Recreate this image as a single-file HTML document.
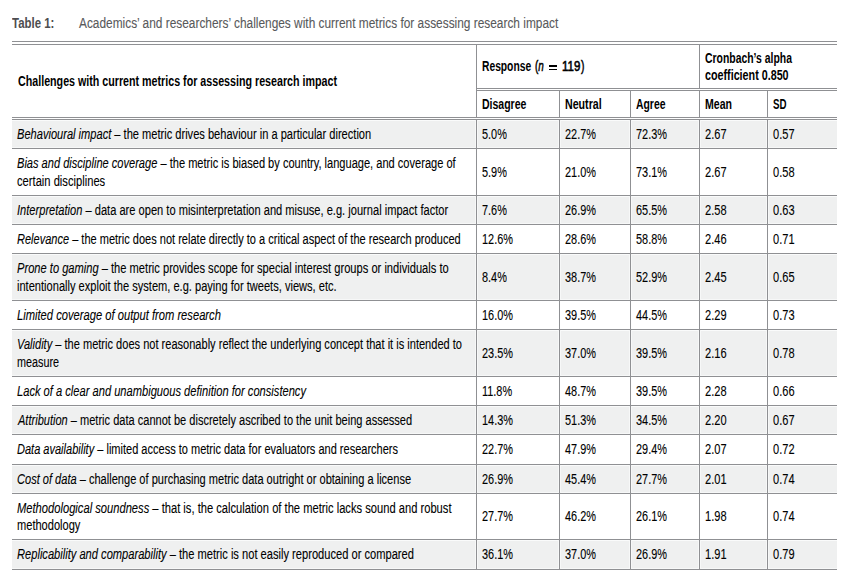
<!DOCTYPE html>
<html><head><meta charset="utf-8"><style>
html,body{margin:0;padding:0;background:#fff;}
body{width:851px;height:580px;position:relative;overflow:hidden;font-family:"Liberation Sans",sans-serif;}
.r{position:absolute}
.t{position:absolute;white-space:nowrap;-webkit-text-stroke:0.1px currentColor;line-height:20px;transform-origin:0 0;}
i{font-style:italic}
b{font-weight:bold;-webkit-text-stroke-width:0}
</style></head><body>
<div class="r" style="left:12px;top:121px;width:825px;height:26px;background:#eff0f0"></div>
<div class="r" style="left:12px;top:147px;width:825px;height:1px;background:#f7f8f8"></div>
<div class="r" style="left:12px;top:120px;width:825px;height:1px;background:#fafbfb"></div>
<div class="r" style="left:12px;top:197px;width:825px;height:26px;background:#eff0f0"></div>
<div class="r" style="left:12px;top:223px;width:825px;height:1px;background:#f7f8f8"></div>
<div class="r" style="left:12px;top:196px;width:825px;height:1px;background:#fafbfb"></div>
<div class="r" style="left:12px;top:255px;width:825px;height:44px;background:#eff0f0"></div>
<div class="r" style="left:12px;top:299px;width:825px;height:1px;background:#f7f8f8"></div>
<div class="r" style="left:12px;top:254px;width:825px;height:1px;background:#fafbfb"></div>
<div class="r" style="left:12px;top:331px;width:825px;height:44px;background:#eff0f0"></div>
<div class="r" style="left:12px;top:375px;width:825px;height:1px;background:#f7f8f8"></div>
<div class="r" style="left:12px;top:330px;width:825px;height:1px;background:#fafbfb"></div>
<div class="r" style="left:12px;top:407px;width:825px;height:26px;background:#eff0f0"></div>
<div class="r" style="left:12px;top:433px;width:825px;height:1px;background:#f7f8f8"></div>
<div class="r" style="left:12px;top:406px;width:825px;height:1px;background:#fafbfb"></div>
<div class="r" style="left:12px;top:466px;width:825px;height:26px;background:#eff0f0"></div>
<div class="r" style="left:12px;top:492px;width:825px;height:1px;background:#f7f8f8"></div>
<div class="r" style="left:12px;top:465px;width:825px;height:1px;background:#fafbfb"></div>
<div class="r" style="left:12px;top:541px;width:825px;height:27px;background:#eff0f0"></div>
<div class="r" style="left:12px;top:568px;width:825px;height:1px;background:#f7f8f8"></div>
<div class="r" style="left:12px;top:540px;width:825px;height:1px;background:#fafbfb"></div>
<div class="r" style="left:12px;top:41px;width:825px;height:1px;background:#8f9093"></div>
<div class="r" style="left:12px;top:44px;width:825px;height:1px;background:#8f9093"></div>
<div class="r" style="left:476px;top:88px;width:361px;height:1px;background:#8f9093"></div>
<div class="r" style="left:476px;top:90px;width:361px;height:1px;background:#8f9093"></div>
<div class="r" style="left:12px;top:117px;width:825px;height:1px;background:#8f9093"></div>
<div class="r" style="left:12px;top:119px;width:825px;height:1px;background:#8f9093"></div>
<div class="r" style="left:12px;top:148px;width:825px;height:1px;background:#8f9093"></div>
<div class="r" style="left:12px;top:195px;width:825px;height:1px;background:#8f9093"></div>
<div class="r" style="left:12px;top:224px;width:825px;height:1px;background:#8f9093"></div>
<div class="r" style="left:12px;top:253px;width:825px;height:1px;background:#8f9093"></div>
<div class="r" style="left:12px;top:300px;width:825px;height:1px;background:#8f9093"></div>
<div class="r" style="left:12px;top:329px;width:825px;height:1px;background:#8f9093"></div>
<div class="r" style="left:12px;top:376px;width:825px;height:1px;background:#8f9093"></div>
<div class="r" style="left:12px;top:405px;width:825px;height:1px;background:#8f9093"></div>
<div class="r" style="left:12px;top:434px;width:825px;height:1px;background:#8f9093"></div>
<div class="r" style="left:12px;top:464px;width:825px;height:1px;background:#8f9093"></div>
<div class="r" style="left:12px;top:493px;width:825px;height:1px;background:#8f9093"></div>
<div class="r" style="left:12px;top:539px;width:825px;height:1px;background:#8f9093"></div>
<div class="r" style="left:12px;top:569px;width:825px;height:1px;background:#8f9093"></div>
<div class="r" style="left:475px;top:120px;width:1px;height:28px;background:#f7f8f8"></div>
<div class="r" style="left:477px;top:120px;width:1px;height:28px;background:#f7f8f8"></div>
<div class="r" style="left:558px;top:120px;width:1px;height:28px;background:#f7f8f8"></div>
<div class="r" style="left:560px;top:120px;width:1px;height:28px;background:#f7f8f8"></div>
<div class="r" style="left:629px;top:120px;width:1px;height:28px;background:#f7f8f8"></div>
<div class="r" style="left:631px;top:120px;width:1px;height:28px;background:#f7f8f8"></div>
<div class="r" style="left:698px;top:120px;width:1px;height:28px;background:#f7f8f8"></div>
<div class="r" style="left:700px;top:120px;width:1px;height:28px;background:#f7f8f8"></div>
<div class="r" style="left:766px;top:120px;width:1px;height:28px;background:#f7f8f8"></div>
<div class="r" style="left:768px;top:120px;width:1px;height:28px;background:#f7f8f8"></div>
<div class="r" style="left:475px;top:196px;width:1px;height:28px;background:#f7f8f8"></div>
<div class="r" style="left:477px;top:196px;width:1px;height:28px;background:#f7f8f8"></div>
<div class="r" style="left:558px;top:196px;width:1px;height:28px;background:#f7f8f8"></div>
<div class="r" style="left:560px;top:196px;width:1px;height:28px;background:#f7f8f8"></div>
<div class="r" style="left:629px;top:196px;width:1px;height:28px;background:#f7f8f8"></div>
<div class="r" style="left:631px;top:196px;width:1px;height:28px;background:#f7f8f8"></div>
<div class="r" style="left:698px;top:196px;width:1px;height:28px;background:#f7f8f8"></div>
<div class="r" style="left:700px;top:196px;width:1px;height:28px;background:#f7f8f8"></div>
<div class="r" style="left:766px;top:196px;width:1px;height:28px;background:#f7f8f8"></div>
<div class="r" style="left:768px;top:196px;width:1px;height:28px;background:#f7f8f8"></div>
<div class="r" style="left:475px;top:254px;width:1px;height:46px;background:#f7f8f8"></div>
<div class="r" style="left:477px;top:254px;width:1px;height:46px;background:#f7f8f8"></div>
<div class="r" style="left:558px;top:254px;width:1px;height:46px;background:#f7f8f8"></div>
<div class="r" style="left:560px;top:254px;width:1px;height:46px;background:#f7f8f8"></div>
<div class="r" style="left:629px;top:254px;width:1px;height:46px;background:#f7f8f8"></div>
<div class="r" style="left:631px;top:254px;width:1px;height:46px;background:#f7f8f8"></div>
<div class="r" style="left:698px;top:254px;width:1px;height:46px;background:#f7f8f8"></div>
<div class="r" style="left:700px;top:254px;width:1px;height:46px;background:#f7f8f8"></div>
<div class="r" style="left:766px;top:254px;width:1px;height:46px;background:#f7f8f8"></div>
<div class="r" style="left:768px;top:254px;width:1px;height:46px;background:#f7f8f8"></div>
<div class="r" style="left:475px;top:330px;width:1px;height:46px;background:#f7f8f8"></div>
<div class="r" style="left:477px;top:330px;width:1px;height:46px;background:#f7f8f8"></div>
<div class="r" style="left:558px;top:330px;width:1px;height:46px;background:#f7f8f8"></div>
<div class="r" style="left:560px;top:330px;width:1px;height:46px;background:#f7f8f8"></div>
<div class="r" style="left:629px;top:330px;width:1px;height:46px;background:#f7f8f8"></div>
<div class="r" style="left:631px;top:330px;width:1px;height:46px;background:#f7f8f8"></div>
<div class="r" style="left:698px;top:330px;width:1px;height:46px;background:#f7f8f8"></div>
<div class="r" style="left:700px;top:330px;width:1px;height:46px;background:#f7f8f8"></div>
<div class="r" style="left:766px;top:330px;width:1px;height:46px;background:#f7f8f8"></div>
<div class="r" style="left:768px;top:330px;width:1px;height:46px;background:#f7f8f8"></div>
<div class="r" style="left:475px;top:406px;width:1px;height:28px;background:#f7f8f8"></div>
<div class="r" style="left:477px;top:406px;width:1px;height:28px;background:#f7f8f8"></div>
<div class="r" style="left:558px;top:406px;width:1px;height:28px;background:#f7f8f8"></div>
<div class="r" style="left:560px;top:406px;width:1px;height:28px;background:#f7f8f8"></div>
<div class="r" style="left:629px;top:406px;width:1px;height:28px;background:#f7f8f8"></div>
<div class="r" style="left:631px;top:406px;width:1px;height:28px;background:#f7f8f8"></div>
<div class="r" style="left:698px;top:406px;width:1px;height:28px;background:#f7f8f8"></div>
<div class="r" style="left:700px;top:406px;width:1px;height:28px;background:#f7f8f8"></div>
<div class="r" style="left:766px;top:406px;width:1px;height:28px;background:#f7f8f8"></div>
<div class="r" style="left:768px;top:406px;width:1px;height:28px;background:#f7f8f8"></div>
<div class="r" style="left:475px;top:465px;width:1px;height:28px;background:#f7f8f8"></div>
<div class="r" style="left:477px;top:465px;width:1px;height:28px;background:#f7f8f8"></div>
<div class="r" style="left:558px;top:465px;width:1px;height:28px;background:#f7f8f8"></div>
<div class="r" style="left:560px;top:465px;width:1px;height:28px;background:#f7f8f8"></div>
<div class="r" style="left:629px;top:465px;width:1px;height:28px;background:#f7f8f8"></div>
<div class="r" style="left:631px;top:465px;width:1px;height:28px;background:#f7f8f8"></div>
<div class="r" style="left:698px;top:465px;width:1px;height:28px;background:#f7f8f8"></div>
<div class="r" style="left:700px;top:465px;width:1px;height:28px;background:#f7f8f8"></div>
<div class="r" style="left:766px;top:465px;width:1px;height:28px;background:#f7f8f8"></div>
<div class="r" style="left:768px;top:465px;width:1px;height:28px;background:#f7f8f8"></div>
<div class="r" style="left:475px;top:540px;width:1px;height:29px;background:#f7f8f8"></div>
<div class="r" style="left:477px;top:540px;width:1px;height:29px;background:#f7f8f8"></div>
<div class="r" style="left:558px;top:540px;width:1px;height:29px;background:#f7f8f8"></div>
<div class="r" style="left:560px;top:540px;width:1px;height:29px;background:#f7f8f8"></div>
<div class="r" style="left:629px;top:540px;width:1px;height:29px;background:#f7f8f8"></div>
<div class="r" style="left:631px;top:540px;width:1px;height:29px;background:#f7f8f8"></div>
<div class="r" style="left:698px;top:540px;width:1px;height:29px;background:#f7f8f8"></div>
<div class="r" style="left:700px;top:540px;width:1px;height:29px;background:#f7f8f8"></div>
<div class="r" style="left:766px;top:540px;width:1px;height:29px;background:#f7f8f8"></div>
<div class="r" style="left:768px;top:540px;width:1px;height:29px;background:#f7f8f8"></div>
<div class="r" style="left:476px;top:44px;width:1px;height:526px;background:#8f9093"></div>
<div class="r" style="left:699px;top:44px;width:1px;height:526px;background:#8f9093"></div>
<div class="r" style="left:559px;top:90px;width:1px;height:480px;background:#8f9093"></div>
<div class="r" style="left:630px;top:90px;width:1px;height:480px;background:#8f9093"></div>
<div class="r" style="left:767px;top:90px;width:1px;height:480px;background:#8f9093"></div>
<div class="r" style="left:476px;top:118px;width:1px;height:1px;background:#ffffff"></div>
<div class="r" style="left:559px;top:118px;width:1px;height:1px;background:#ffffff"></div>
<div class="r" style="left:630px;top:118px;width:1px;height:1px;background:#ffffff"></div>
<div class="r" style="left:699px;top:118px;width:1px;height:1px;background:#ffffff"></div>
<div class="r" style="left:767px;top:118px;width:1px;height:1px;background:#ffffff"></div>
<div class="r" style="left:699px;top:89px;width:1px;height:1px;background:#ffffff"></div>
<div class="t" style="left:12.20px;top:13.15px;font-size:14px;color:#4d4d4f;transform:scaleX(0.8158)"><b>Table 1:</b></div>
<div class="t" style="left:79.40px;top:13.15px;font-size:14px;color:#58595b;transform:scaleX(0.8488)">Academics’ and researchers’ challenges with current metrics for assessing research impact</div>
<div class="t" style="left:18.00px;top:71.15px;font-size:14px;color:#000000;transform:scaleX(0.7634)"><b>Challenges with current metrics for assessing research impact</b></div>
<div class="t" style="left:482.00px;top:56.15px;font-size:14px;color:#000000;transform:scaleX(0.7339)"><b>Response</b></div>
<div class="t" style="left:535.30px;top:56.15px;font-size:14px;color:#000000;transform:scaleX(0.7061);-webkit-text-stroke:0.5px #000">(<i>n</i></div>
<div class="r" style="left:548.5px;top:65px;width:8.6px;height:1.5px;background:#000000"></div>
<div class="r" style="left:548.5px;top:68.5px;width:8.6px;height:1.5px;background:#000000"></div>
<div class="t" style="left:561.70px;top:56.15px;font-size:14px;color:#000000;transform:scaleX(0.8206);-webkit-text-stroke:0.6px #000">119</div>
<div class="t" style="left:580.80px;top:56.15px;font-size:14px;color:#000000;transform:scaleX(0.7312);-webkit-text-stroke:0.5px #000">)</div>
<div class="t" style="left:705.00px;top:47.75px;font-size:14px;color:#000000;transform:scaleX(0.7433)"><b>Cronbach’s alpha</b></div>
<div class="t" style="left:705.00px;top:64.75px;font-size:14px;color:#000000;transform:scaleX(0.7673)"><b>coefficient 0.850</b></div>
<div class="t" style="left:482.00px;top:94.15px;font-size:14px;color:#000000;transform:scaleX(0.7506)"><b>Disagree</b></div>
<div class="t" style="left:565.00px;top:94.15px;font-size:14px;color:#000000;transform:scaleX(0.7606)"><b>Neutral</b></div>
<div class="t" style="left:635.50px;top:94.15px;font-size:14px;color:#000000;transform:scaleX(0.7431)"><b>Agree</b></div>
<div class="t" style="left:705.00px;top:94.15px;font-size:14px;color:#000000;transform:scaleX(0.7542)"><b>Mean</b></div>
<div class="t" style="left:773.00px;top:94.15px;font-size:14px;color:#000000;transform:scaleX(0.6941)"><b>SD</b></div>
<div class="t" style="left:17.30px;top:124.15px;font-size:14px;color:#000000;transform:scaleX(0.7916)"><i>Behavioural impact</i> – the metric drives behaviour in a particular direction</div>
<div class="t" style="left:481.80px;top:124.15px;font-size:14px;color:#000000;transform:scaleX(0.7800)">5.0%</div>
<div class="t" style="left:564.80px;top:124.15px;font-size:14px;color:#000000;transform:scaleX(0.7800)">22.7%</div>
<div class="t" style="left:635.80px;top:124.15px;font-size:14px;color:#000000;transform:scaleX(0.7800)">72.3%</div>
<div class="t" style="left:704.80px;top:124.15px;font-size:14px;color:#000000;transform:scaleX(0.7910)">2.67</div>
<div class="t" style="left:772.80px;top:124.15px;font-size:14px;color:#000000;transform:scaleX(0.7910)">0.57</div>
<div class="t" style="left:17.30px;top:153.15px;font-size:14px;color:#000000;transform:scaleX(0.7909)"><i>Bias and discipline coverage</i> – the metric is biased by country, language, and coverage of</div>
<div class="t" style="left:17.30px;top:171.15px;font-size:14px;color:#000000;transform:scaleX(0.7982)">certain disciplines</div>
<div class="t" style="left:481.80px;top:162.15px;font-size:14px;color:#000000;transform:scaleX(0.7800)">5.9%</div>
<div class="t" style="left:564.80px;top:162.15px;font-size:14px;color:#000000;transform:scaleX(0.7800)">21.0%</div>
<div class="t" style="left:635.80px;top:162.15px;font-size:14px;color:#000000;transform:scaleX(0.7800)">73.1%</div>
<div class="t" style="left:704.80px;top:162.15px;font-size:14px;color:#000000;transform:scaleX(0.7910)">2.67</div>
<div class="t" style="left:772.80px;top:162.15px;font-size:14px;color:#000000;transform:scaleX(0.7910)">0.58</div>
<div class="t" style="left:17.30px;top:200.15px;font-size:14px;color:#000000;transform:scaleX(0.7927)"><i>Interpretation</i> – data are open to misinterpretation and misuse, e.g. journal impact factor</div>
<div class="t" style="left:481.80px;top:200.15px;font-size:14px;color:#000000;transform:scaleX(0.7800)">7.6%</div>
<div class="t" style="left:564.80px;top:200.15px;font-size:14px;color:#000000;transform:scaleX(0.7800)">26.9%</div>
<div class="t" style="left:635.80px;top:200.15px;font-size:14px;color:#000000;transform:scaleX(0.7800)">65.5%</div>
<div class="t" style="left:704.80px;top:200.15px;font-size:14px;color:#000000;transform:scaleX(0.7910)">2.58</div>
<div class="t" style="left:772.80px;top:200.15px;font-size:14px;color:#000000;transform:scaleX(0.7910)">0.63</div>
<div class="t" style="left:17.30px;top:229.15px;font-size:14px;color:#000000;transform:scaleX(0.7875)"><i>Relevance</i> – the metric does not relate directly to a critical aspect of the research produced</div>
<div class="t" style="left:481.80px;top:229.15px;font-size:14px;color:#000000;transform:scaleX(0.7800)">12.6%</div>
<div class="t" style="left:564.80px;top:229.15px;font-size:14px;color:#000000;transform:scaleX(0.7800)">28.6%</div>
<div class="t" style="left:635.80px;top:229.15px;font-size:14px;color:#000000;transform:scaleX(0.7800)">58.8%</div>
<div class="t" style="left:704.80px;top:229.15px;font-size:14px;color:#000000;transform:scaleX(0.7910)">2.46</div>
<div class="t" style="left:772.80px;top:229.15px;font-size:14px;color:#000000;transform:scaleX(0.7910)">0.71</div>
<div class="t" style="left:17.30px;top:258.15px;font-size:14px;color:#000000;transform:scaleX(0.7948)"><i>Prone to gaming</i> – the metric provides scope for special interest groups or individuals to</div>
<div class="t" style="left:17.30px;top:276.15px;font-size:14px;color:#000000;transform:scaleX(0.7914)">intentionally exploit the system, e.g. paying for tweets, views, etc.</div>
<div class="t" style="left:481.80px;top:267.15px;font-size:14px;color:#000000;transform:scaleX(0.7800)">8.4%</div>
<div class="t" style="left:564.80px;top:267.15px;font-size:14px;color:#000000;transform:scaleX(0.7800)">38.7%</div>
<div class="t" style="left:635.80px;top:267.15px;font-size:14px;color:#000000;transform:scaleX(0.7800)">52.9%</div>
<div class="t" style="left:704.80px;top:267.15px;font-size:14px;color:#000000;transform:scaleX(0.7910)">2.45</div>
<div class="t" style="left:772.80px;top:267.15px;font-size:14px;color:#000000;transform:scaleX(0.7910)">0.65</div>
<div class="t" style="left:17.30px;top:305.15px;font-size:14px;color:#000000;transform:scaleX(0.7988)"><i>Limited coverage of output from research</i></div>
<div class="t" style="left:481.80px;top:305.15px;font-size:14px;color:#000000;transform:scaleX(0.7800)">16.0%</div>
<div class="t" style="left:564.80px;top:305.15px;font-size:14px;color:#000000;transform:scaleX(0.7800)">39.5%</div>
<div class="t" style="left:635.80px;top:305.15px;font-size:14px;color:#000000;transform:scaleX(0.7800)">44.5%</div>
<div class="t" style="left:704.80px;top:305.15px;font-size:14px;color:#000000;transform:scaleX(0.7910)">2.29</div>
<div class="t" style="left:772.80px;top:305.15px;font-size:14px;color:#000000;transform:scaleX(0.7910)">0.73</div>
<div class="t" style="left:17.30px;top:334.15px;font-size:14px;color:#000000;transform:scaleX(0.7894)"><i>Validity</i> – the metric does not reasonably reflect the underlying concept that it is intended to</div>
<div class="t" style="left:17.30px;top:352.15px;font-size:14px;color:#000000;transform:scaleX(0.7713)">measure</div>
<div class="t" style="left:481.80px;top:343.15px;font-size:14px;color:#000000;transform:scaleX(0.7800)">23.5%</div>
<div class="t" style="left:564.80px;top:343.15px;font-size:14px;color:#000000;transform:scaleX(0.7800)">37.0%</div>
<div class="t" style="left:635.80px;top:343.15px;font-size:14px;color:#000000;transform:scaleX(0.7800)">39.5%</div>
<div class="t" style="left:704.80px;top:343.15px;font-size:14px;color:#000000;transform:scaleX(0.7910)">2.16</div>
<div class="t" style="left:772.80px;top:343.15px;font-size:14px;color:#000000;transform:scaleX(0.7910)">0.78</div>
<div class="t" style="left:17.30px;top:381.15px;font-size:14px;color:#000000;transform:scaleX(0.7952)"><i>Lack of a clear and unambiguous definition for consistency</i></div>
<div class="t" style="left:481.80px;top:381.15px;font-size:14px;color:#000000;transform:scaleX(0.7800)">11.8%</div>
<div class="t" style="left:564.80px;top:381.15px;font-size:14px;color:#000000;transform:scaleX(0.7800)">48.7%</div>
<div class="t" style="left:635.80px;top:381.15px;font-size:14px;color:#000000;transform:scaleX(0.7800)">39.5%</div>
<div class="t" style="left:704.80px;top:381.15px;font-size:14px;color:#000000;transform:scaleX(0.7910)">2.28</div>
<div class="t" style="left:772.80px;top:381.15px;font-size:14px;color:#000000;transform:scaleX(0.7910)">0.66</div>
<div class="t" style="left:17.85px;top:410.15px;font-size:14px;color:#000000;transform:scaleX(0.7889)"><i>Attribution</i> – metric data cannot be discretely ascribed to the unit being assessed</div>
<div class="t" style="left:481.80px;top:410.15px;font-size:14px;color:#000000;transform:scaleX(0.7800)">14.3%</div>
<div class="t" style="left:564.80px;top:410.15px;font-size:14px;color:#000000;transform:scaleX(0.7800)">51.3%</div>
<div class="t" style="left:635.80px;top:410.15px;font-size:14px;color:#000000;transform:scaleX(0.7800)">34.5%</div>
<div class="t" style="left:704.80px;top:410.15px;font-size:14px;color:#000000;transform:scaleX(0.7910)">2.20</div>
<div class="t" style="left:772.80px;top:410.15px;font-size:14px;color:#000000;transform:scaleX(0.7910)">0.67</div>
<div class="t" style="left:17.30px;top:439.15px;font-size:14px;color:#000000;transform:scaleX(0.7872)"><i>Data availability</i> – limited access to metric data for evaluators and researchers</div>
<div class="t" style="left:481.80px;top:439.15px;font-size:14px;color:#000000;transform:scaleX(0.7800)">22.7%</div>
<div class="t" style="left:564.80px;top:439.15px;font-size:14px;color:#000000;transform:scaleX(0.7800)">47.9%</div>
<div class="t" style="left:635.80px;top:439.15px;font-size:14px;color:#000000;transform:scaleX(0.7800)">29.4%</div>
<div class="t" style="left:704.80px;top:439.15px;font-size:14px;color:#000000;transform:scaleX(0.7910)">2.07</div>
<div class="t" style="left:772.80px;top:439.15px;font-size:14px;color:#000000;transform:scaleX(0.7910)">0.72</div>
<div class="t" style="left:17.30px;top:469.15px;font-size:14px;color:#000000;transform:scaleX(0.7900)"><i>Cost of data</i> – challenge of purchasing metric data outright or obtaining a license</div>
<div class="t" style="left:481.80px;top:469.15px;font-size:14px;color:#000000;transform:scaleX(0.7800)">26.9%</div>
<div class="t" style="left:564.80px;top:469.15px;font-size:14px;color:#000000;transform:scaleX(0.7800)">45.4%</div>
<div class="t" style="left:635.80px;top:469.15px;font-size:14px;color:#000000;transform:scaleX(0.7800)">27.7%</div>
<div class="t" style="left:704.80px;top:469.15px;font-size:14px;color:#000000;transform:scaleX(0.7910)">2.01</div>
<div class="t" style="left:772.80px;top:469.15px;font-size:14px;color:#000000;transform:scaleX(0.7910)">0.74</div>
<div class="t" style="left:17.30px;top:498.15px;font-size:14px;color:#000000;transform:scaleX(0.7976)"><i>Methodological soundness</i> – that is, the calculation of the metric lacks sound and robust</div>
<div class="t" style="left:17.30px;top:515.15px;font-size:14px;color:#000000;transform:scaleX(0.7910)">methodology</div>
<div class="t" style="left:481.80px;top:506.15px;font-size:14px;color:#000000;transform:scaleX(0.7800)">27.7%</div>
<div class="t" style="left:564.80px;top:506.15px;font-size:14px;color:#000000;transform:scaleX(0.7800)">46.2%</div>
<div class="t" style="left:635.80px;top:506.15px;font-size:14px;color:#000000;transform:scaleX(0.7800)">26.1%</div>
<div class="t" style="left:704.80px;top:506.15px;font-size:14px;color:#000000;transform:scaleX(0.7910)">1.98</div>
<div class="t" style="left:772.80px;top:506.15px;font-size:14px;color:#000000;transform:scaleX(0.7910)">0.74</div>
<div class="t" style="left:17.30px;top:544.15px;font-size:14px;color:#000000;transform:scaleX(0.7945)"><i>Replicability and comparability</i> – the metric is not easily reproduced or compared</div>
<div class="t" style="left:481.80px;top:544.15px;font-size:14px;color:#000000;transform:scaleX(0.7800)">36.1%</div>
<div class="t" style="left:564.80px;top:544.15px;font-size:14px;color:#000000;transform:scaleX(0.7800)">37.0%</div>
<div class="t" style="left:635.80px;top:544.15px;font-size:14px;color:#000000;transform:scaleX(0.7800)">26.9%</div>
<div class="t" style="left:704.80px;top:544.15px;font-size:14px;color:#000000;transform:scaleX(0.7910)">1.91</div>
<div class="t" style="left:772.80px;top:544.15px;font-size:14px;color:#000000;transform:scaleX(0.7910)">0.79</div>
</body></html>
